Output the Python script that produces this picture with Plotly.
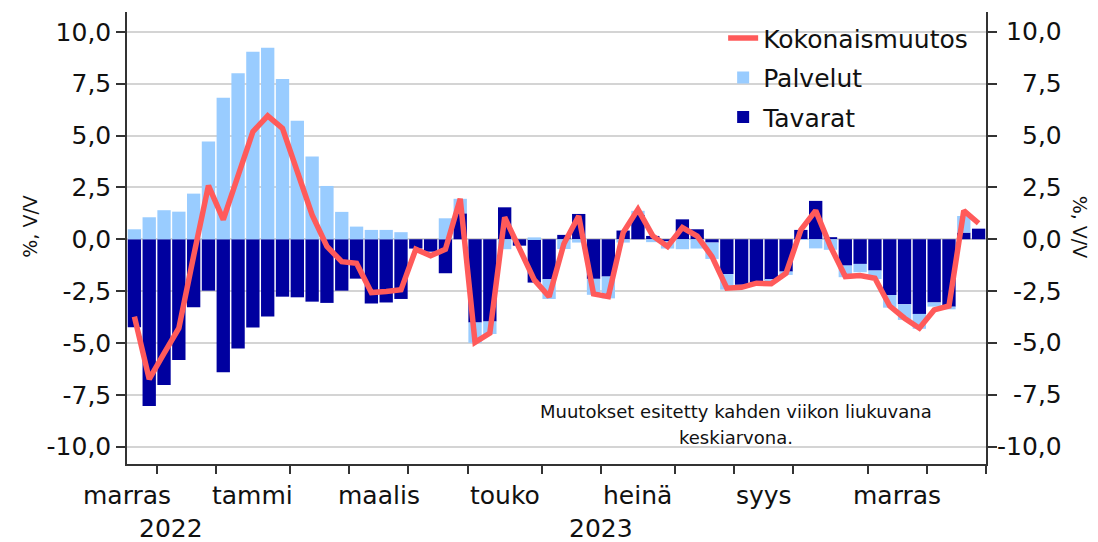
import numpy as np
import pandas as pd
import plotly.graph_objects as go

# ---------------- data ----------------
week_start = pd.date_range("2022-11-21", periods=58, freq="W-MON")
weeks = [d.strftime("%Y-%m-%d") for d in week_start]

tavarat = [-4.24, -8.04, -7.03, -5.82, -3.28, -2.48, -6.41, -5.27, -4.26, -3.73,
           -2.77, -2.80, -3.01, -3.07, -2.48, -1.90, -3.10, -3.05, -2.88, -0.45,
           -0.60, -1.64, 1.25, -4.02, -3.97, 1.54, -0.31, -2.09, -1.93, 0.21,
           1.22, -1.91, -1.80, 0.42, 1.17, 0.16, -0.10, 0.96, 0.48, -0.16,
           -1.68, -2.20, -2.09, -1.96, -1.56, 0.45, 1.85, 0.10, -1.27, -1.19,
           -1.51, -2.69, -3.14, -3.60, -3.05, -3.25, 0.32, 0.51]
palvelut = [0.48, 1.06, 1.40, 1.33, 2.20, 4.71, 6.83, 8.01, 9.04, 9.23,
            7.73, 5.71, 3.99, 2.57, 1.32, 0.61, 0.45, 0.45, 0.34, 0.00,
            0.00, 1.01, 0.70, -0.98, -0.60, -0.48, 0.00, 0.09, -0.95, -0.47,
            -0.16, -0.77, -1.05, -0.16, 0.20, -0.14, -0.35, -0.48, -0.45, -0.79,
            -0.75, -0.10, 0.00, -0.08, -0.16, -0.03, -0.44, -0.51, -0.56, -0.40,
            -0.41, -0.61, -0.75, -0.72, -0.20, -0.13, 0.80, 0.00]
kokonais = [-3.73, -6.75, -5.50, -4.29, -0.80, 2.59, 0.95, 3.00, 5.19, 5.95,
            5.35, 3.26, 1.17, -0.35, -1.08, -1.16, -2.57, -2.52, -2.44, -0.48,
            -0.80, -0.48, 1.95, -4.97, -4.53, 1.06, -0.38, -1.96, -2.77, -0.22,
            1.12, -2.64, -2.77, 0.32, 1.44, 0.16, -0.35, 0.56, 0.15, -0.84,
            -2.36, -2.32, -2.12, -2.15, -1.64, 0.45, 1.38, -0.35, -1.80, -1.75,
            -1.88, -3.22, -3.81, -4.29, -3.41, -3.22, 1.38, 0.77]

y_ticks = [-10, -7.5, -5, -2.5, 0, 2.5, 5, 7.5, 10]
y_ticktext = ["-10,0", "-7,5", "-5,0", "-2,5", "0,0", "2,5", "5,0", "7,5", "10,0"]

month_names_fi = ["tammi", "helmi", "maalis", "huhti", "touko", "kesä",
                  "heinä", "elo", "syys", "loka", "marras", "joulu"]
labelled_months = [(2022, 11), (2023, 1), (2023, 3), (2023, 5), (2023, 7), (2023, 9), (2023, 11)]
years = [2022, 2023]
note_lines = ["Muutokset esitetty kahden viikon liukuvana", "keskiarvona."]

# ---------------- derived positions ----------------
x = np.arange(len(weeks))
ext = pd.date_range(week_start[0] - pd.Timedelta(weeks=2), periods=len(weeks) + 3, freq="W-MON")
ext_idx = np.arange(len(ext)) - 2
boundaries = [ext_idx[k] - 0.5 for k in range(1, len(ext))
              if ext[k].month != ext[k - 1].month and -0.5 <= ext_idx[k] - 0.5 <= len(weeks) - 0.5]
month_centres = []
for (yy, mm) in labelled_months:
    sel = ext_idx[(ext.year == yy) & (ext.month == mm)]
    month_centres.append(float(np.mean(sel)))
year_centres = [float(np.mean(x[week_start.year == yy])) for yy in years]

FONT = "DejaVu Sans"
TXT = "#111111"
DARK = "#00009f"
LIGHT = "#99ccff"
RED = "#ff5a5a"

fig = go.Figure()
fig.add_trace(go.Bar(x=x, y=tavarat, name="Tavarat", marker=dict(color=DARK, line=dict(width=0)),
                     legendgroup="c", legendrank=3, customdata=weeks))
fig.add_trace(go.Bar(x=x, y=palvelut, name="Palvelut", marker=dict(color=LIGHT, line=dict(width=0)),
                     legendgroup="b", legendrank=2, customdata=weeks))
fig.add_trace(go.Scatter(x=x, y=kokonais, name="Kokonaismuutos", mode="lines",
                         line=dict(color=RED, width=5.5), legendgroup="a", legendrank=1,
                         customdata=weeks))

annotations = []
for (yy, mm), c in zip(labelled_months, month_centres):
    annotations.append(dict(x=c, y=0, xref="x", yref="paper", text=month_names_fi[mm - 1],
                            showarrow=False, xanchor="center", yanchor="middle", yshift=-31,
                            font=dict(family=FONT, size=25, color=TXT)))
for yy, c in zip(years, year_centres):
    annotations.append(dict(x=c, y=0, xref="x", yref="paper", text=str(yy), showarrow=False,
                            xanchor="center", yanchor="middle", yshift=-64,
                            font=dict(family=FONT, size=25, color=TXT)))
# right axis labels (right aligned)
for v, t in zip(y_ticks, y_ticktext):
    annotations.append(dict(x=1, y=v, xref="paper", yref="y", text=t, showarrow=False,
                            xanchor="right", yanchor="middle", xshift=78,
                            font=dict(family=FONT, size=25, color=TXT)))
# axis titles
annotations.append(dict(x=0, y=0.525, xref="paper", yref="paper", text="%, V/V", showarrow=False,
                        textangle=-90, xanchor="center", yanchor="middle", xshift=-97,
                        font=dict(family=FONT, size=19, color=TXT)))
annotations.append(dict(x=1, y=0.525, xref="paper", yref="paper", text="%, V/V", showarrow=False,
                        textangle=90, xanchor="center", yanchor="middle", xshift=94,
                        font=dict(family=FONT, size=19, color=TXT)))
# note
for k, line in enumerate(note_lines):
    annotations.append(dict(x=0.7095, y=0.117 - k * 0.0575, xref="paper", yref="paper", text=line,
                            showarrow=False, xanchor="center", yanchor="middle",
                            font=dict(family=FONT, size=18, color=TXT)))

fig.update_layout(
    width=1098, height=542,
    margin=dict(l=127, r=112, t=12, b=78),
    paper_bgcolor="white", plot_bgcolor="white",
    barmode="relative", bargap=0.1,
    font=dict(family=FONT, size=25, color=TXT),
    showlegend=True,
    legend=dict(x=0.694, xanchor="left", y=0.993, yanchor="top", traceorder="grouped",
                bgcolor="rgba(0,0,0,0)", font=dict(family=FONT, size=25, color=TXT),
                tracegroupgap=4, itemwidth=30),
    annotations=annotations,
    xaxis=dict(range=[-0.5, len(weeks) - 0.5], tickmode="array", tickvals=boundaries,
               ticktext=["" for _ in boundaries], ticks="outside", ticklen=8, tickwidth=1.5,
               tickcolor="#333333", showgrid=False, zeroline=False, showline=True,
               linecolor="#333333", linewidth=1.5),
    yaxis=dict(range=[-10.84, 10.96], tickmode="array", tickvals=y_ticks, ticktext=y_ticktext,
               ticks="outside", ticklen=9, tickwidth=1.5, tickcolor="#333333",
               showgrid=True, gridcolor="#d4d4d4", gridwidth=1.5, zeroline=False,
               showline=True, linecolor="#333333", linewidth=1.5, mirror="ticks",
               tickfont=dict(family=FONT, size=25, color=TXT)),
)

fig.write_html("out.html", config={"displayModeBar": False},
               post_script="document.body.style.margin='0px';document.body.style.overflow='hidden';")
